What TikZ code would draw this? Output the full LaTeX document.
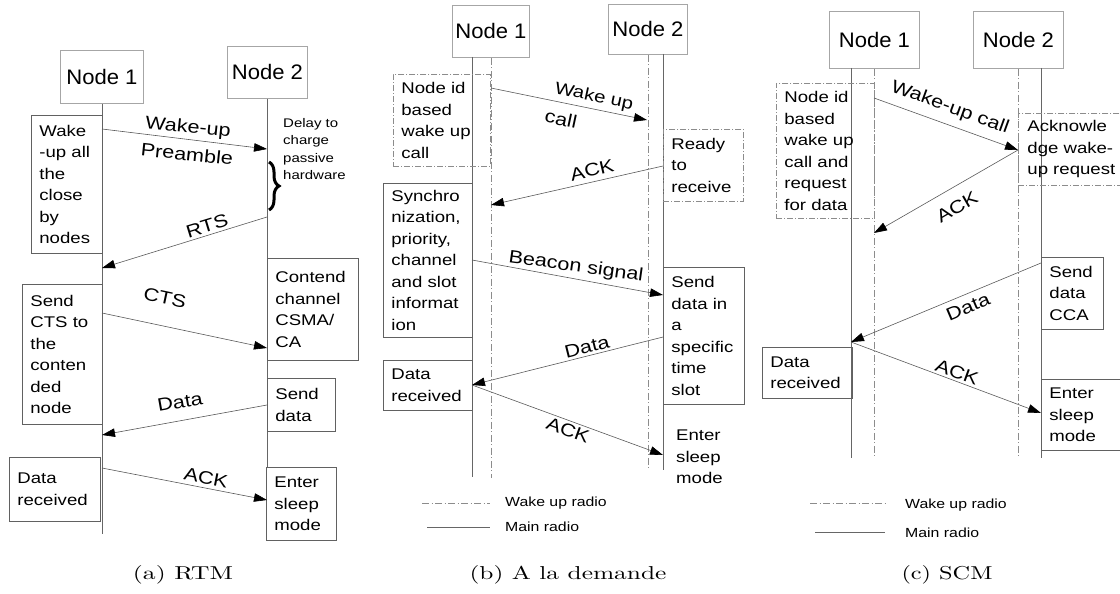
\documentclass[tikz,border=0pt]{standalone}
\usepackage{fontspec}
\usepackage{graphicx}
\usetikzlibrary{arrows.meta,decorations.pathreplacing}
\newfontfamily\bodyf[FakeStretch=1.2]{Liberation Sans}
\newfontfamily\lblf[FakeStretch=1.2]{Liberation Sans}
\newfontfamily\ttlf[FakeStretch=1.05]{Liberation Sans}
\newcommand\bxfont{\bodyf\fontsize{15.5}{21.5}\selectfont}
\newcommand\lbfont{\lblf\fontsize{18}{21}\selectfont}
\newcommand\smfont{\bodyf\fontsize{12.5}{17.5}\selectfont}
\newcommand\lgfont{\bodyf\fontsize{13.2}{16}\selectfont}
\newcommand\ttlfont{\ttlf\fontsize{21}{24}\selectfont}
\newcommand\capf[2]{\resizebox{#1}{14pt}{#2}}
\begin{document}
\begin{tikzpicture}[x=1pt,y=-1pt,
  ttl/.style={draw=black!35, line width=0.8pt, anchor=north west, inner sep=0pt, font=\ttlfont},
  bx/.style 2 args={draw=black!62, line width=0.8pt, anchor=north west, inner xsep=8pt, inner ysep=0pt, text width=#1, minimum height=#2, align=left, font=\bxfont},
  dbx/.style 2 args={bx={#1}{#2}, draw=black!45, dash pattern=on 6pt off 2pt on 1pt off 2pt},
  life/.style={draw=black!60, line width=0.7pt},
  wlife/.style={draw=black!45, line width=0.7pt, dash pattern=on 7pt off 2.5pt on 1pt off 2.5pt},
  msg/.style={draw=black!65, line width=0.6pt, -{Triangle[length=13pt,width=8.5pt,color=black]}},
  lbl/.style={font=\lbfont, inner sep=0pt},
  txt/.style={font=\bxfont, inner sep=0pt, align=left, anchor=north west},
  lg/.style={font=\lgfont, inner sep=0pt, anchor=west},
  capn/.style={inner sep=0pt},
]
\useasboundingbox (0,0) rectangle (1120,594);

%% ---------------- (a) RTM ----------------
\node[ttl, minimum width=83pt, minimum height=53pt] (a1) at (60,50) {Node 1};
\node[ttl, minimum width=80pt, minimum height=52pt] (a2) at (227,46) {Node 2};
\draw[life] (a1.south) -- ++(0,430);
\draw[life] (a2.south) -- ++(0,369);

\node[bx={55pt}{138pt}] (awake) at (31,115) {Wake\\-up~all\\the\\close\\by\\nodes};
\node[bx={64pt}{140pt}] (acts) at (22,284) {Send\\CTS~to\\the\\conten\\ded\\node};
\node[bx={75pt}{102pt}] (acont) at (267,258) {Contend\\channel\\CSMA/\\CA};
\node[bx={52pt}{53pt}] (asend) at (267,378) {Send\\data};
\node[bx={75pt}{64pt}] (arecv) at (9,457) {Data\\received};
\node[bx={54pt}{73pt}] (asleep) at (266,467) {Enter\\sleep\\mode};
\node[font=\smfont, inner sep=0pt, align=left, anchor=north west] (adelay) at (283,118) {Delay~to\\charge\\passive\\hardware};
\draw[line width=3pt, decorate, decoration={brace, amplitude=10pt}] (269,162) -- (269,210);

\coordinate (aw1) at (102,129); \coordinate (aw2) at (267,149);
\coordinate (ar1) at (267,217); \coordinate (ar2) at (102,268);
\coordinate (ac1) at (102,313); \coordinate (ac2) at (267,348);
\coordinate (ad1) at (267,405); \coordinate (ad2) at (102,435);
\coordinate (ak1) at (102,468); \coordinate (ak2) at (267,500);
\draw[msg] (aw1) -- (aw2);
\draw[msg] (ar1) -- (ar2);
\draw[msg] (ac1) -- (ac2);
\draw[msg] (ad1) -- (ad2);
\draw[msg] (ak1) -- (ak2);
\node[lbl, rotate=-6] (alw) at (188,128) {Wake-up};
\node[lbl, rotate=-6] (alp) at (187,154) {Preamble};
\node[lbl, rotate=17] (alr) at (207,226) {RTS};
\node[lbl, rotate=-12] (alc) at (165,298) {CTS};
\node[lbl, rotate=10] (ald) at (180,402) {Data};
\node[lbl, rotate=-11] (alk) at (206,478) {ACK};
\node[capn] (capa) at (183,575) {\capf{100pt}{(a) RTM}};

%% ---------------- (b) A la demande ----------------
\node[ttl, minimum width=77pt, minimum height=52pt] (b1) at (452,5) {Node 1};
\node[ttl, minimum width=79pt, minimum height=50pt] (b2) at (608,4) {Node 2};
\draw[wlife] (b1.south) -- ++(0,420);
\draw[life] (472,57) -- (472,477);
\draw[wlife] (b2.south) -- ++(0,416);
\draw[life] (663,54) -- (663,470);

\node[dbx={81pt}{92pt}] (bid) at (393,74) {Node~id\\based\\wake~up\\call};
\node[dbx={64pt}{72pt}] (bready) at (663,129) {Ready\\to\\receive};
\node[bx={73pt}{154pt}] (bsync) at (383,183) {Synchro\\nization,\\priority,\\channel\\and~slot\\informat\\ion};
\node[bx={65pt}{137pt}] (bsend) at (663,267) {Send\\data~in\\a\\specific\\time\\slot};
\node[bx={73pt}{50pt}] (brecv) at (383,360) {Data\\received};
\node[txt] (bsleep) at (676,430) {Enter\\sleep\\mode};

\coordinate (bw1) at (491,88);  \coordinate (bw2) at (647,120);
\coordinate (ba1) at (663,166); \coordinate (ba2) at (491,205);
\coordinate (bb1) at (472,260); \coordinate (bb2) at (663,295);
\coordinate (bd1) at (663,337); \coordinate (bd2) at (472,385);
\coordinate (bk2) at (663,455);
\draw[msg] (bw1) -- (bw2);
\draw[msg] (ba1) -- (ba2);
\draw[msg] (bb1) -- (bb2);
\draw[msg] (bd1) -- (bd2);
\draw[msg] (bd2) -- (bk2);
\node[lbl, rotate=-12, font=\lblf\fontsize{17}{20}\selectfont] (blw) at (594,97) {Wake up};
\node[lbl, rotate=-12] (blc) at (561,119) {call};
\node[lbl, rotate=13] (bla) at (592,170) {ACK};
\node[lbl, rotate=-8] (blb) at (576,267) {Beacon signal};
\node[lbl, rotate=14] (bld) at (587,347) {Data};
\node[lbl, rotate=-20] (blk) at (568,430) {ACK};

\draw[wlife] (422,503) -- (490,503);
\node[lg] (blg1) at (505,503) {Wake up radio};
\draw[life] (427,527) -- (490,527);
\node[lg] (blg2) at (505,527) {Main radio};
\node[capn] (capb) at (568,575) {\capf{197pt}{(b) A la demande}};

%% ---------------- (c) SCM ----------------
\node[ttl, minimum width=90pt, minimum height=57pt] (c1) at (829,11) {Node 1};
\node[ttl, minimum width=90pt, minimum height=57pt] (c2) at (973,11) {Node 2};
\draw[wlife] (c1.south) -- ++(0,390);
\draw[life] (851,68) -- (851,458);
\draw[wlife] (c2.south) -- ++(0,390);
\draw[life] (1041,68) -- (1041,458);

\node[dbx={82pt}{135pt}] (cid) at (776,83) {Node~id\\based\\wake~up\\call~and\\request\\for~data};
\node[dbx={90pt}{72pt}, inner xsep=9pt] (cack) at (1018,113) {Acknowle\\dge~wake-\\up~request};
\node[bx={46pt}{72pt}] (csend) at (1041,257) {Send\\data\\CCA};
\node[bx={74pt}{51pt}] (crecv) at (762,347) {Data\\received};
\node[bx={64pt}{71pt}] (csleep) at (1041,379) {Enter\\sleep\\mode};

\coordinate (cw1) at (874,98);   \coordinate (cw2) at (1018,150);
\coordinate (ca2) at (874,233);
\coordinate (cd1) at (1041,263); \coordinate (cd2) at (851,342);
\coordinate (ck2) at (1041,413);
\draw[msg] (cw1) -- (cw2);
\draw[msg] (cw2) -- (ca2);
\draw[msg] (cd1) -- (cd2);
\draw[msg] (cd2) -- (ck2);
\node[lbl, rotate=-20] (clw) at (950,108) {Wake-up call};
\node[lbl, rotate=30] (cla) at (957,207) {ACK};
\node[lbl, rotate=23] (cld) at (968,307) {Data};
\node[lbl, rotate=-20] (clk) at (957,372) {ACK};

\draw[wlife] (810,503) -- (885,503);
\node[lg] (clg1) at (905,505) {Wake up radio};
\draw[life] (815,532) -- (885,532);
\node[lg] (clg2) at (905,533) {Main radio};
\node[capn] (capc) at (947,575) {\capf{91pt}{(c) SCM}};
\end{tikzpicture}
\end{document}
